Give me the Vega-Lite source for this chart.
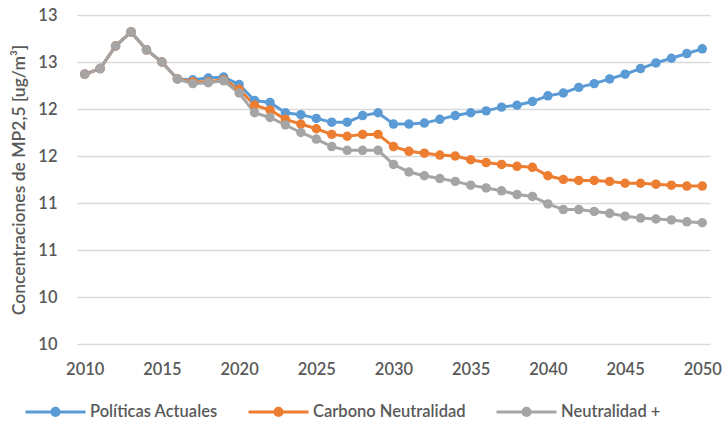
{
  "$schema": "https://vega.github.io/schema/vega-lite/v6.json",
  "autosize": {"type": "none"},
  "padding": {"left": 77, "top": 15, "right": 13, "bottom": 80},
  "width": 633,
  "height": 329,
  "background": "white",
  "config": {"view": {"stroke": null}, "font": "Lato"},
  "data": {"values": [
    {"year": 2010, "serie": "Políticas Actuales", "value": 12.37},
    {"year": 2011, "serie": "Políticas Actuales", "value": 12.43},
    {"year": 2012, "serie": "Políticas Actuales", "value": 12.67},
    {"year": 2013, "serie": "Políticas Actuales", "value": 12.82},
    {"year": 2014, "serie": "Políticas Actuales", "value": 12.63},
    {"year": 2015, "serie": "Políticas Actuales", "value": 12.50},
    {"year": 2016, "serie": "Políticas Actuales", "value": 12.32},
    {"year": 2017, "serie": "Políticas Actuales", "value": 12.31},
    {"year": 2018, "serie": "Políticas Actuales", "value": 12.33},
    {"year": 2019, "serie": "Políticas Actuales", "value": 12.34},
    {"year": 2020, "serie": "Políticas Actuales", "value": 12.26},
    {"year": 2021, "serie": "Políticas Actuales", "value": 12.09},
    {"year": 2022, "serie": "Políticas Actuales", "value": 12.07},
    {"year": 2023, "serie": "Políticas Actuales", "value": 11.96},
    {"year": 2024, "serie": "Políticas Actuales", "value": 11.94},
    {"year": 2025, "serie": "Políticas Actuales", "value": 11.90},
    {"year": 2026, "serie": "Políticas Actuales", "value": 11.86},
    {"year": 2027, "serie": "Políticas Actuales", "value": 11.86},
    {"year": 2028, "serie": "Políticas Actuales", "value": 11.93},
    {"year": 2029, "serie": "Políticas Actuales", "value": 11.96},
    {"year": 2030, "serie": "Políticas Actuales", "value": 11.84},
    {"year": 2031, "serie": "Políticas Actuales", "value": 11.84},
    {"year": 2032, "serie": "Políticas Actuales", "value": 11.85},
    {"year": 2033, "serie": "Políticas Actuales", "value": 11.89},
    {"year": 2034, "serie": "Políticas Actuales", "value": 11.93},
    {"year": 2035, "serie": "Políticas Actuales", "value": 11.96},
    {"year": 2036, "serie": "Políticas Actuales", "value": 11.98},
    {"year": 2037, "serie": "Políticas Actuales", "value": 12.02},
    {"year": 2038, "serie": "Políticas Actuales", "value": 12.04},
    {"year": 2039, "serie": "Políticas Actuales", "value": 12.08},
    {"year": 2040, "serie": "Políticas Actuales", "value": 12.14},
    {"year": 2041, "serie": "Políticas Actuales", "value": 12.17},
    {"year": 2042, "serie": "Políticas Actuales", "value": 12.23},
    {"year": 2043, "serie": "Políticas Actuales", "value": 12.27},
    {"year": 2044, "serie": "Políticas Actuales", "value": 12.32},
    {"year": 2045, "serie": "Políticas Actuales", "value": 12.37},
    {"year": 2046, "serie": "Políticas Actuales", "value": 12.43},
    {"year": 2047, "serie": "Políticas Actuales", "value": 12.49},
    {"year": 2048, "serie": "Políticas Actuales", "value": 12.54},
    {"year": 2049, "serie": "Políticas Actuales", "value": 12.59},
    {"year": 2050, "serie": "Políticas Actuales", "value": 12.64},
    {"year": 2010, "serie": "Carbono Neutralidad", "value": 12.37},
    {"year": 2011, "serie": "Carbono Neutralidad", "value": 12.43},
    {"year": 2012, "serie": "Carbono Neutralidad", "value": 12.67},
    {"year": 2013, "serie": "Carbono Neutralidad", "value": 12.82},
    {"year": 2014, "serie": "Carbono Neutralidad", "value": 12.63},
    {"year": 2015, "serie": "Carbono Neutralidad", "value": 12.50},
    {"year": 2016, "serie": "Carbono Neutralidad", "value": 12.32},
    {"year": 2017, "serie": "Carbono Neutralidad", "value": 12.29},
    {"year": 2018, "serie": "Carbono Neutralidad", "value": 12.29},
    {"year": 2019, "serie": "Carbono Neutralidad", "value": 12.31},
    {"year": 2020, "serie": "Carbono Neutralidad", "value": 12.21},
    {"year": 2021, "serie": "Carbono Neutralidad", "value": 12.04},
    {"year": 2022, "serie": "Carbono Neutralidad", "value": 11.99},
    {"year": 2023, "serie": "Carbono Neutralidad", "value": 11.89},
    {"year": 2024, "serie": "Carbono Neutralidad", "value": 11.84},
    {"year": 2025, "serie": "Carbono Neutralidad", "value": 11.79},
    {"year": 2026, "serie": "Carbono Neutralidad", "value": 11.73},
    {"year": 2027, "serie": "Carbono Neutralidad", "value": 11.71},
    {"year": 2028, "serie": "Carbono Neutralidad", "value": 11.73},
    {"year": 2029, "serie": "Carbono Neutralidad", "value": 11.73},
    {"year": 2030, "serie": "Carbono Neutralidad", "value": 11.60},
    {"year": 2031, "serie": "Carbono Neutralidad", "value": 11.55},
    {"year": 2032, "serie": "Carbono Neutralidad", "value": 11.53},
    {"year": 2033, "serie": "Carbono Neutralidad", "value": 11.51},
    {"year": 2034, "serie": "Carbono Neutralidad", "value": 11.50},
    {"year": 2035, "serie": "Carbono Neutralidad", "value": 11.46},
    {"year": 2036, "serie": "Carbono Neutralidad", "value": 11.43},
    {"year": 2037, "serie": "Carbono Neutralidad", "value": 11.41},
    {"year": 2038, "serie": "Carbono Neutralidad", "value": 11.39},
    {"year": 2039, "serie": "Carbono Neutralidad", "value": 11.38},
    {"year": 2040, "serie": "Carbono Neutralidad", "value": 11.29},
    {"year": 2041, "serie": "Carbono Neutralidad", "value": 11.25},
    {"year": 2042, "serie": "Carbono Neutralidad", "value": 11.24},
    {"year": 2043, "serie": "Carbono Neutralidad", "value": 11.24},
    {"year": 2044, "serie": "Carbono Neutralidad", "value": 11.23},
    {"year": 2045, "serie": "Carbono Neutralidad", "value": 11.21},
    {"year": 2046, "serie": "Carbono Neutralidad", "value": 11.21},
    {"year": 2047, "serie": "Carbono Neutralidad", "value": 11.20},
    {"year": 2048, "serie": "Carbono Neutralidad", "value": 11.19},
    {"year": 2049, "serie": "Carbono Neutralidad", "value": 11.18},
    {"year": 2050, "serie": "Carbono Neutralidad", "value": 11.18},
    {"year": 2010, "serie": "Neutralidad +", "value": 12.37},
    {"year": 2011, "serie": "Neutralidad +", "value": 12.43},
    {"year": 2012, "serie": "Neutralidad +", "value": 12.67},
    {"year": 2013, "serie": "Neutralidad +", "value": 12.82},
    {"year": 2014, "serie": "Neutralidad +", "value": 12.63},
    {"year": 2015, "serie": "Neutralidad +", "value": 12.50},
    {"year": 2016, "serie": "Neutralidad +", "value": 12.32},
    {"year": 2017, "serie": "Neutralidad +", "value": 12.27},
    {"year": 2018, "serie": "Neutralidad +", "value": 12.28},
    {"year": 2019, "serie": "Neutralidad +", "value": 12.30},
    {"year": 2020, "serie": "Neutralidad +", "value": 12.17},
    {"year": 2021, "serie": "Neutralidad +", "value": 11.96},
    {"year": 2022, "serie": "Neutralidad +", "value": 11.91},
    {"year": 2023, "serie": "Neutralidad +", "value": 11.83},
    {"year": 2024, "serie": "Neutralidad +", "value": 11.75},
    {"year": 2025, "serie": "Neutralidad +", "value": 11.68},
    {"year": 2026, "serie": "Neutralidad +", "value": 11.60},
    {"year": 2027, "serie": "Neutralidad +", "value": 11.56},
    {"year": 2028, "serie": "Neutralidad +", "value": 11.56},
    {"year": 2029, "serie": "Neutralidad +", "value": 11.56},
    {"year": 2030, "serie": "Neutralidad +", "value": 11.41},
    {"year": 2031, "serie": "Neutralidad +", "value": 11.33},
    {"year": 2032, "serie": "Neutralidad +", "value": 11.29},
    {"year": 2033, "serie": "Neutralidad +", "value": 11.26},
    {"year": 2034, "serie": "Neutralidad +", "value": 11.23},
    {"year": 2035, "serie": "Neutralidad +", "value": 11.19},
    {"year": 2036, "serie": "Neutralidad +", "value": 11.16},
    {"year": 2037, "serie": "Neutralidad +", "value": 11.13},
    {"year": 2038, "serie": "Neutralidad +", "value": 11.09},
    {"year": 2039, "serie": "Neutralidad +", "value": 11.07},
    {"year": 2040, "serie": "Neutralidad +", "value": 10.99},
    {"year": 2041, "serie": "Neutralidad +", "value": 10.93},
    {"year": 2042, "serie": "Neutralidad +", "value": 10.93},
    {"year": 2043, "serie": "Neutralidad +", "value": 10.91},
    {"year": 2044, "serie": "Neutralidad +", "value": 10.89},
    {"year": 2045, "serie": "Neutralidad +", "value": 10.86},
    {"year": 2046, "serie": "Neutralidad +", "value": 10.84},
    {"year": 2047, "serie": "Neutralidad +", "value": 10.83},
    {"year": 2048, "serie": "Neutralidad +", "value": 10.82},
    {"year": 2049, "serie": "Neutralidad +", "value": 10.80},
    {"year": 2050, "serie": "Neutralidad +", "value": 10.79}
  ]},
  "mark": {"type": "line", "strokeWidth": 3, "point": {"filled": true, "size": 90, "opacity": 1}},
  "encoding": {
    "x": {
      "field": "year", "type": "quantitative",
      "scale": {"domain": [2009.5, 2050.5], "nice": false, "zero": false},
      "axis": {
        "title": null, "values": [2010, 2015, 2020, 2025, 2030, 2035, 2040, 2045, 2050],
        "format": "d", "grid": false, "domain": false, "ticks": false,
        "labelPadding": 17, "labelFontSize": 16.5, "labelColor": "#595959", "labelFont": "Lato",
        "labelFontWeight": 600
      }
    },
    "y": {
      "field": "value", "type": "quantitative",
      "scale": {"domain": [9.5, 13], "nice": false, "zero": false},
      "axis": {
        "title": "Concentraciones de MP2,5 [ug/m³]",
        "values": [9.5, 10, 10.5, 11, 11.5, 12, 12.5, 13],
        "format": ".0f", "grid": true, "gridColor": "#d9d9d9", "gridWidth": 1.3,
        "domain": false, "ticks": false, "labelPadding": 20,
        "labelFontSize": 16.5, "labelColor": "#595959", "labelFont": "Lato", "labelFontWeight": 600,
        "titleFontSize": 17.5, "titleColor": "#595959", "titleFont": "Lato",
        "titleFontWeight": 600, "titlePadding": 9
      }
    },
    "color": {
      "field": "serie", "type": "nominal",
      "scale": {
        "domain": ["Políticas Actuales", "Carbono Neutralidad", "Neutralidad +"],
        "range": ["#5B9BD5", "#ED7D31", "#A5A5A5"]
      },
      "legend": {
        "title": null, "orient": "none", "direction": "horizontal",
        "legendX": -53, "legendY": 365, "padding": 0,
        "symbolType": "M-1,0H1M-0.12,0A0.12,0.12 0 1,0 0.12,0A0.12,0.12 0 1,0 -0.12,0Z",
        "symbolSize": 3600, "symbolStrokeWidth": 3,
        "labelFontSize": 16.5, "labelColor": "#595959", "labelFont": "Lato", "labelFontWeight": 600,
        "labelOffset": 3, "columnPadding": 24,
        "encode": {"symbols": {"update": {"fill": {"scale": "color", "field": "value"}, "fillOpacity": {"value": 1}, "opacity": {"value": 1}}}}
      }
    }
  }
}
